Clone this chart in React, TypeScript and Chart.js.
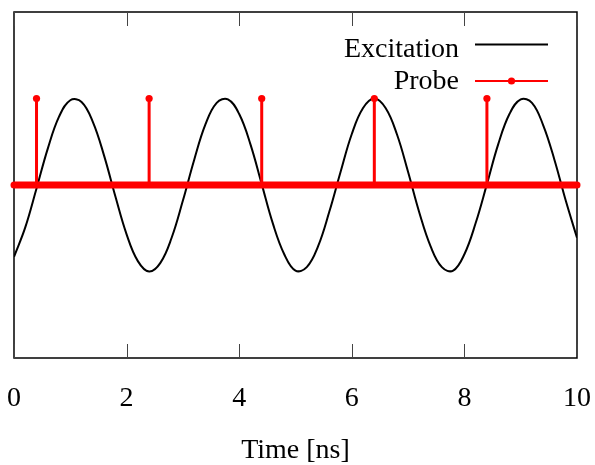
import React, { useEffect, useRef } from "react";
import { Chart, registerables } from "chart.js";

Chart.register(...registerables);

// Sample times (ns) and excitation values
const timeNs = [
  0, 0.2, 0.4, 0.6, 0.8, 1.0, 1.2, 1.4, 1.6, 1.8,
  2.0, 2.2, 2.4, 2.6, 2.8, 3.0, 3.2, 3.4, 3.6, 3.8,
  4.0, 4.2, 4.4, 4.6, 4.8, 5.0, 5.2, 5.4, 5.6, 5.8,
  6.0, 6.2, 6.4, 6.6, 6.8, 7.0, 7.2, 7.4, 7.6, 7.8,
  8.0, 8.2, 8.4, 8.6, 8.8, 9.0, 9.2, 9.4, 9.6, 9.8, 10.0,
];
const excitation = [
  -0.83, -0.49, -0.04, 0.42, 0.79, 0.98, 0.96, 0.73, 0.34, -0.13,
  -0.57, -0.88, -1.0, -0.9, -0.61, -0.18, 0.29, 0.7, 0.95, 0.99,
  0.82, 0.47, 0.01, -0.45, -0.8, -0.99, -0.95, -0.71, -0.31, 0.15,
  0.59, 0.89, 1.0, 0.89, 0.59, 0.15, -0.32, -0.71, -0.95, -0.99,
  -0.8, -0.44, 0.01, 0.47, 0.82, 0.99, 0.95, 0.69, 0.29, -0.18, -0.61,
];

// Probe pulses
const probeTimes = [0.4, 2.4, 4.4, 6.4, 8.4];
const probeValues = [1, 1, 1, 1, 1];
const probeBaselineTimes = [0, 10];
const probeBaselineValues = [0, 0];

const xTickValues = [0, 2, 4, 6, 8, 10];
const xTitle = "Time [ns]";
const seriesNames = ["Excitation", "Probe"];

const FONT = '"Liberation Serif", "Times New Roman", serif';
const RED = "#ff0000";

const framePlugin = {
  id: "frameTicksLegend",
  beforeDatasetsDraw(chart: any) {
    const { ctx, chartArea: a, scales } = chart;
    const xs = scales.x;
    ctx.save();
    ctx.strokeStyle = "#000";
    ctx.lineWidth = 1.5;
    ctx.strokeRect(a.left, a.top, a.right - a.left, a.bottom - a.top);
    ctx.lineWidth = 1;
    ctx.strokeStyle = "#444";
    for (const v of xTickValues) {
      const px = Math.round(xs.getPixelForValue(v)) + 0.5;
      ctx.beginPath();
      ctx.moveTo(px, a.bottom);
      ctx.lineTo(px, a.bottom - 14);
      ctx.moveTo(px, a.top);
      ctx.lineTo(px, a.top + 14);
      ctx.stroke();
    }
    ctx.restore();
  },
  afterDraw(chart: any) {
    const { ctx } = chart;
    ctx.save();
    ctx.font = `28px ${FONT}`;
    ctx.fillStyle = "#000";
    ctx.textAlign = "right";
    ctx.textBaseline = "alphabetic";
    ctx.fillText(seriesNames[0], 459, 56.5);
    ctx.fillText(seriesNames[1], 459, 89);
    // excitation sample
    ctx.strokeStyle = "#000";
    ctx.lineWidth = 2;
    ctx.beginPath();
    ctx.moveTo(475, 44.5);
    ctx.lineTo(548, 44.5);
    ctx.stroke();
    // probe sample
    ctx.strokeStyle = RED;
    ctx.beginPath();
    ctx.moveTo(475, 81);
    ctx.lineTo(548, 81);
    ctx.stroke();
    ctx.fillStyle = RED;
    ctx.beginPath();
    ctx.arc(511.5, 81, 3.6, 0, Math.PI * 2);
    ctx.fill();
    ctx.restore();
  },
};

export default function App() {
  const ref = useRef<HTMLCanvasElement>(null);

  useEffect(() => {
    if (!ref.current) return;
    const stemData: any[] = [];
    probeTimes.forEach((t, i) => {
      stemData.push({ x: t, y: 0 });
      stemData.push({ x: t, y: probeValues[i] });
      stemData.push({ x: t, y: null });
    });
    const chart = new Chart(ref.current, {
      type: "line",
      data: {
        datasets: [
          {
            label: seriesNames[1],
            data: stemData,
            borderColor: RED,
            backgroundColor: RED,
            borderWidth: 3,
            pointRadius: (c: any) => (c.raw && c.raw.y ? 3.6 : 0),
            pointBorderWidth: 0,
            pointBackgroundColor: RED,
            spanGaps: false,
            clip: false,
            order: 1,
          } as any,
          {
            label: seriesNames[1] + " baseline",
            data: probeBaselineTimes.map((t, i) => ({ x: t, y: probeBaselineValues[i] })),
            borderColor: RED,
            borderWidth: 7,
            borderCapStyle: "round",
            pointRadius: 0,
            clip: false,
            order: 2,
          } as any,
          {
            label: seriesNames[0],
            data: timeNs.map((t, i) => ({ x: t, y: excitation[i] })),
            borderColor: "#000",
            borderWidth: 2,
            pointRadius: 0,
            tension: 0.4,
            order: 3,
          } as any,
        ],
      },
      options: {
        animation: false,
        responsive: false,
        maintainAspectRatio: false,
        layout: { padding: { left: 14, right: 18, top: 12, bottom: 0 } },
        plugins: { legend: { display: false }, tooltip: { enabled: false } },
        scales: {
          x: {
            type: "linear",
            min: 0,
            max: 10,
            afterBuildTicks: (s: any) => {
              s.ticks = xTickValues.map((v) => ({ value: v }));
            },
            afterFit: (s: any) => {
              s.height = 107;
              s.paddingLeft = 0;
              s.paddingRight = 0;
            },
            grid: { display: false, drawTicks: false },
            border: { display: false },
            ticks: {
              font: { family: FONT, size: 28 },
              color: "#000",
              padding: 24,
              maxRotation: 0,
              autoSkip: false,
            },
            title: {
              display: true,
              text: xTitle,
              font: { family: FONT, size: 28 },
              color: "#000",
              padding: { top: 0, bottom: -2 },
            },
          },
          y: { display: false, min: -2, max: 2 },
        },
      },
      plugins: [framePlugin],
    } as any);
    return () => chart.destroy();
  }, []);

  return (
    <div style={{ position: "fixed", left: 0, top: 0, width: 595, height: 465, background: "#fff" }}>
      <canvas ref={ref} width={595} height={465} />
    </div>
  );
}
